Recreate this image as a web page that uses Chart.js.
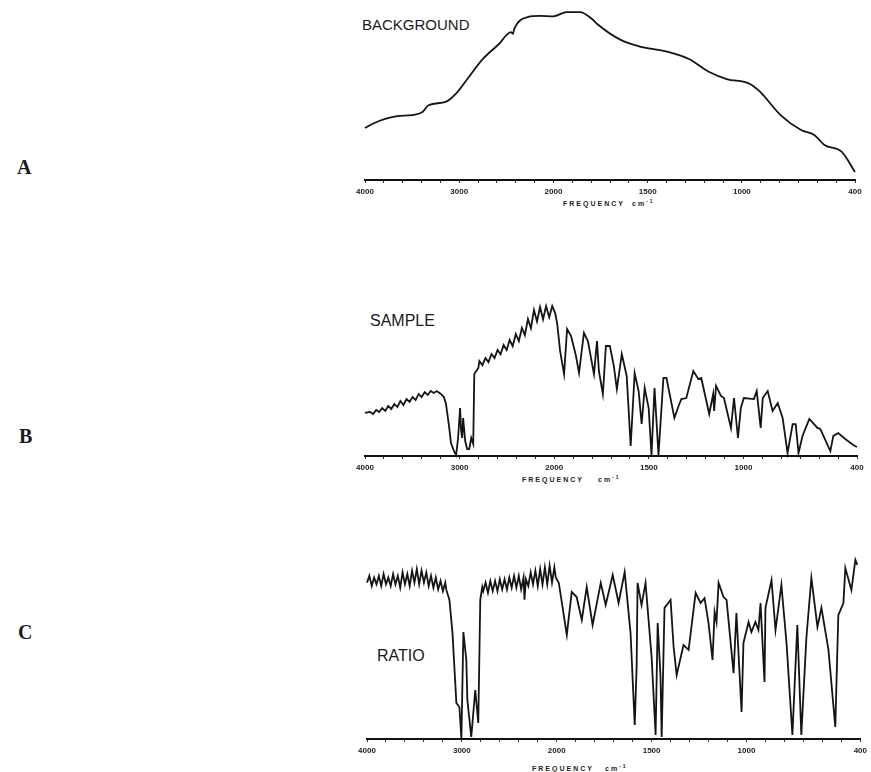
<!DOCTYPE html>
<html>
<head>
<meta charset="utf-8">
<title>IR spectra: background, sample, ratio</title>
<script src="https://cdn.jsdelivr.net/npm/chart.js@4.4.0/dist/chart.umd.min.js"></script>
<style>
  html, body { margin: 0; padding: 0; background: #fff; }
  body { width: 871px; height: 772px; position: relative; overflow: hidden; }
  canvas { position: absolute; }
  .name { position: absolute; font-family: 'Liberation Sans', Arial, sans-serif; line-height: 1; color: #1a1a1a; white-space: nowrap; }
  .letter { position: absolute; font-family: 'Liberation Serif', 'Times New Roman', serif; font-weight: bold; font-size: 20px; line-height: 1; color: #1a1a1a; }
  .freq { position: absolute; font-family: 'Liberation Sans', Arial, sans-serif; font-weight: bold; font-size: 7px; letter-spacing: 2px; line-height: 1; color: #222; white-space: nowrap; }
</style>
</head>
<body>

<div class="letter" style="left:17px;top:157px">A</div>
<div class="letter" style="left:19px;top:426px">B</div>
<div class="letter" style="left:18px;top:622px">C</div>

<div class="name" style="left:362px;top:17px;font-size:15px">BACKGROUND</div>
<div class="name" style="left:370px;top:313px;font-size:16px">SAMPLE</div>
<div class="name" style="left:377px;top:648px;font-size:16px">RATIO</div>

<div class="freq" style="left:563px;top:200px">FREQUENCY</div>
<div class="freq" style="left:632px;top:199px">cm<sup style="font-size:5px">-1</sup></div>
<div class="freq" style="left:522px;top:476px">FREQUENCY</div>
<div class="freq" style="left:598px;top:475px">cm<sup style="font-size:5px">-1</sup></div>
<div class="freq" style="left:532px;top:765px">FREQUENCY</div>
<div class="freq" style="left:605px;top:764px">cm<sup style="font-size:5px">-1</sup></div>

<canvas id="chartA" width="524" height="190" style="left:345px;top:10px"></canvas>
<canvas id="chartB" width="526" height="190" style="left:345px;top:286px"></canvas>
<canvas id="chartC" width="524" height="207" style="left:347px;top:552px"></canvas>

<script>
// Axis tick labels (cm-1) and small unlabelled tick marks
const tickFreqs = [4000, 3000, 2000, 1500, 1000, 400];
const minorTickFreqs = [3800, 3600, 3400, 3200, 2800, 2600, 2400, 2200,
    1900, 1800, 1700, 1600, 1400, 1300, 1200, 1100, 900, 800, 700, 600, 500];

// A - background spectrum
const bgFreq = [4000, 3900, 3786, 3658, 3497, 3390, 3326, 3144, 3037, 2898, 2749, 2578,
    2450, 2430, 2415, 2267, 2150, 2000, 1930, 1859, 1795, 1768, 1643, 1551, 1389, 1281,
    1173, 1081, 957, 903, 795, 686, 616, 562, 470, 400];
const bgValue = [30.6, 33.5, 35.9, 37.6, 38.2, 40, 44, 45.9, 50.6, 60.6, 71.2, 80,
    87, 86, 89, 95.9, 96.5, 96.3, 98.8, 98.8, 94.7, 91.8, 82.4, 78.8, 75.3, 71.2,
    63.5, 59.4, 56.5, 51.8, 38.2, 29.4, 26.5, 20.6, 16.5, 4.7];

// B - sample spectrum
const sampleFreq = [4000, 3947, 3914, 3882, 3850, 3818, 3786, 3754, 3722, 3690, 3658, 3626,
    3594, 3561, 3529, 3497, 3465, 3433, 3401, 3369, 3337, 3305, 3273, 3241, 3198, 3166,
    3144, 3112, 3091, 3059, 3037, 3016, 2995, 2984, 2973, 2963, 2941, 2920, 2898, 2877,
    2856, 2845, 2802, 2791, 2759, 2727, 2695, 2663, 2631, 2599, 2567, 2535, 2503, 2471,
    2439, 2406, 2374, 2342, 2310, 2278, 2246, 2214, 2182, 2150, 2118, 2086, 2053, 2021,
    1995, 1984, 1969, 1948, 1932, 1911, 1885, 1869, 1843, 1822, 1790, 1774, 1764, 1743,
    1727, 1706, 1685, 1669, 1643, 1617, 1596, 1575, 1554, 1538, 1522, 1501, 1486, 1470,
    1449, 1423, 1407, 1365, 1339, 1328, 1302, 1265, 1239, 1223, 1181, 1160, 1155, 1145,
    1119, 1103, 1066, 1050, 1029, 1014, 998, 945, 930, 909, 898, 872, 846, 819, 793, 767,
    740, 724, 709, 688, 652, 609, 594, 541, 525, 499, 462, 420, 400];
const sampleValue = [25.3, 25.9, 24.7, 27.1, 25.9, 28.2, 26.5, 29.4, 27.6, 30.6, 28.8, 32.4,
    30, 33.5, 31.8, 34.7, 32.9, 36.5, 34.7, 37.6, 35.9, 38.2, 37.1, 38.2, 36.5, 34.7,
    30.6, 17.6, 7.6, 2.9, 0.6, 10.6, 28.2, 14.7, 10.6, 22.4, 8.8, 4.1, 4.1, 10.6,
    7.1, 48.2, 51.8, 55.9, 53.4, 57.6, 55.2, 60, 57.6, 62.4, 59.9, 65.3, 62.3, 68.2,
    64.6, 71.8, 67.6, 75.3, 71.1, 80.6, 75.2, 85.9, 79.2, 87.6, 80.4, 88.2, 81.6, 88.2,
    84.1, 77.6, 61.8, 48.2, 74.7, 70.6, 58.8, 48.8, 72.4, 67.6, 48.2, 67.6, 50, 36.5,
    64.7, 64.7, 52.9, 39.4, 60, 47.1, 5.9, 48.8, 38.2, 18.8, 40, 28.2, 0.6, 40,
    0.6, 45.9, 45.9, 22.4, 30.6, 33.5, 34.1, 50, 45.3, 45.9, 24.7, 36.5, 26.5, 41.2,
    35.3, 34.1, 16.5, 34.1, 10.6, 28.2, 34.1, 33.5, 38.2, 16.5, 34.1, 38.2, 26.5, 31.2, 22.4, 1.8,
    18.8, 18.8, 1.8, 11.8, 21.8, 16.5, 15.9, 2.9, 11.8, 13.5, 10, 6.5, 5.3];

// C - ratio spectrum
const ratioFreq = [4000, 3975, 3950, 3925, 3900, 3875, 3850, 3825, 3800, 3775, 3750, 3725,
    3700, 3675, 3650, 3625, 3600, 3575, 3550, 3525, 3500, 3475, 3450, 3425, 3400, 3375,
    3350, 3325, 3300, 3275, 3250, 3225, 3200, 3175, 3165, 3131, 3099, 3058, 3026, 3005,
    2984, 2953, 2942, 2901, 2859, 2827, 2806, 2785, 2775, 2750, 2725, 2700, 2675, 2650,
    2625, 2600, 2575, 2550, 2525, 2500, 2475, 2450, 2425, 2400, 2375, 2350, 2340, 2325,
    2300, 2275, 2250, 2225, 2200, 2175, 2150, 2125, 2100, 2075, 2050, 2025, 2010, 1989,
    1947, 1921, 1895, 1868, 1842, 1811, 1768, 1742, 1705, 1674, 1642, 1611, 1589, 1579,
    1574, 1553, 1532, 1500, 1479, 1468, 1453, 1447, 1432, 1400, 1384, 1368, 1332, 1305,
    1268, 1242, 1221, 1200, 1179, 1168, 1158, 1147, 1121, 1105, 1068, 1053, 1026, 1016,
    989, 974, 953, 937, 926, 905, 900, 868, 847, 816, 789, 758, 732, 711, 684, 658,
    626, 605, 568, 532, 516, 489, 479, 447, 426, 416];
const ratioValue = [92, 96, 90, 95, 91, 96, 90, 97, 91, 95, 90, 97,
    91, 96, 89, 98, 91, 97, 90, 99, 92, 100, 91, 99, 92, 98,
    90, 96, 89, 95, 88, 93, 87, 92, 88, 81.8, 62.4, 21.2, 18.8, 0,
    62.9, 46.5, 22.9, 1.2, 28.8, 9.4, 81.8, 89.4, 87, 92, 86, 93, 87, 93,
    87, 94, 88, 94, 88, 95, 89, 96, 89, 96, 88, 95, 82, 94,
    90, 98, 91, 99, 90, 100, 91, 101, 91, 102, 92, 101, 95, 91.8,
    61.2, 86.5, 83.5, 70, 89.4, 67.1, 91.8, 78.8, 96.5, 80, 98.2, 62.4, 8.2, 42.4,
    91.8, 78.8, 91.8, 48.2, 2.4, 68.2, 36.5, 1.2, 77.1, 81.8, 54.1, 37.6, 55.3, 52.4,
    85.9, 80, 82.9, 68.2, 46.5, 74.7, 68.8, 91.8, 83.5, 81.8, 38.8, 74.1, 15.9, 56.5,
    68.8, 62.9, 68.8, 64.1, 80, 33.5, 77.1, 93.5, 64.1, 90.6, 56.5, 2.4, 67.1, 2.4, 60, 94.7,
    65.9, 77.1, 52.4, 7.1, 72.9, 80, 100.6, 87.6, 105.3, 102.4];

// chart paper has double scale below 2000 cm-1
const toAxis = f => f >= 2000 ? (4000 - f) / 2 : 1000 + (2000 - f);
const fromAxis = u => u <= 1000 ? 4000 - 2 * u : 2000 - (u - 1000);
const allTicks = tickFreqs.concat(minorTickFreqs).sort((a, b) => b - a);

function makePanel(id, freqs, values, yMax, padRight, smooth) {
    const ctx = document.getElementById(id);
    return new Chart(ctx, {
        type: 'line',
        data: {
            datasets: [{
                data: freqs.map((f, i) => ({ x: toAxis(f), y: values[i] })),
                borderColor: '#141414',
                borderWidth: 1.8,
                pointRadius: 0,
                tension: smooth ? 0.4 : 0,
                cubicInterpolationMode: smooth ? 'monotone' : 'default',
                clip: false
            }]
        },
        options: {
            responsive: false,
            animation: false,
            events: [],
            layout: { padding: { left: 20, right: padRight, top: 0, bottom: 0 } },
            plugins: { legend: { display: false }, tooltip: { enabled: false } },
            scales: {
                x: {
                    type: 'linear',
                    min: 0,
                    max: 2600,
                    afterBuildTicks: s => { s.ticks = allTicks.map(f => ({ value: toAxis(f) })); },
                    afterFit: s => { s.height = 20; },
                    grid: { drawOnChartArea: false, drawTicks: true, tickLength: 3, color: '#333', lineWidth: 1 },
                    border: { display: true, color: '#111', width: 2 },
                    ticks: {
                        autoSkip: false,
                        maxRotation: 0,
                        padding: 4,
                        color: '#222',
                        font: { family: 'Liberation Sans', size: 8, weight: 'bold' },
                        callback: value => {
                            const f = Math.round(fromAxis(value));
                            return tickFreqs.includes(f) ? String(f) : '';
                        }
                    }
                },
                y: { display: false, min: 0, max: yMax }
            }
        }
    });
}

// background trace is a smooth pen line, the other two are sharp
makePanel('chartA', bgFreq, bgValue, 100, 14, true);
makePanel('chartB', sampleFreq, sampleValue, 100, 14, false);
makePanel('chartC', ratioFreq, ratioValue, 110, 9, false);
</script>
</body>
</html>
